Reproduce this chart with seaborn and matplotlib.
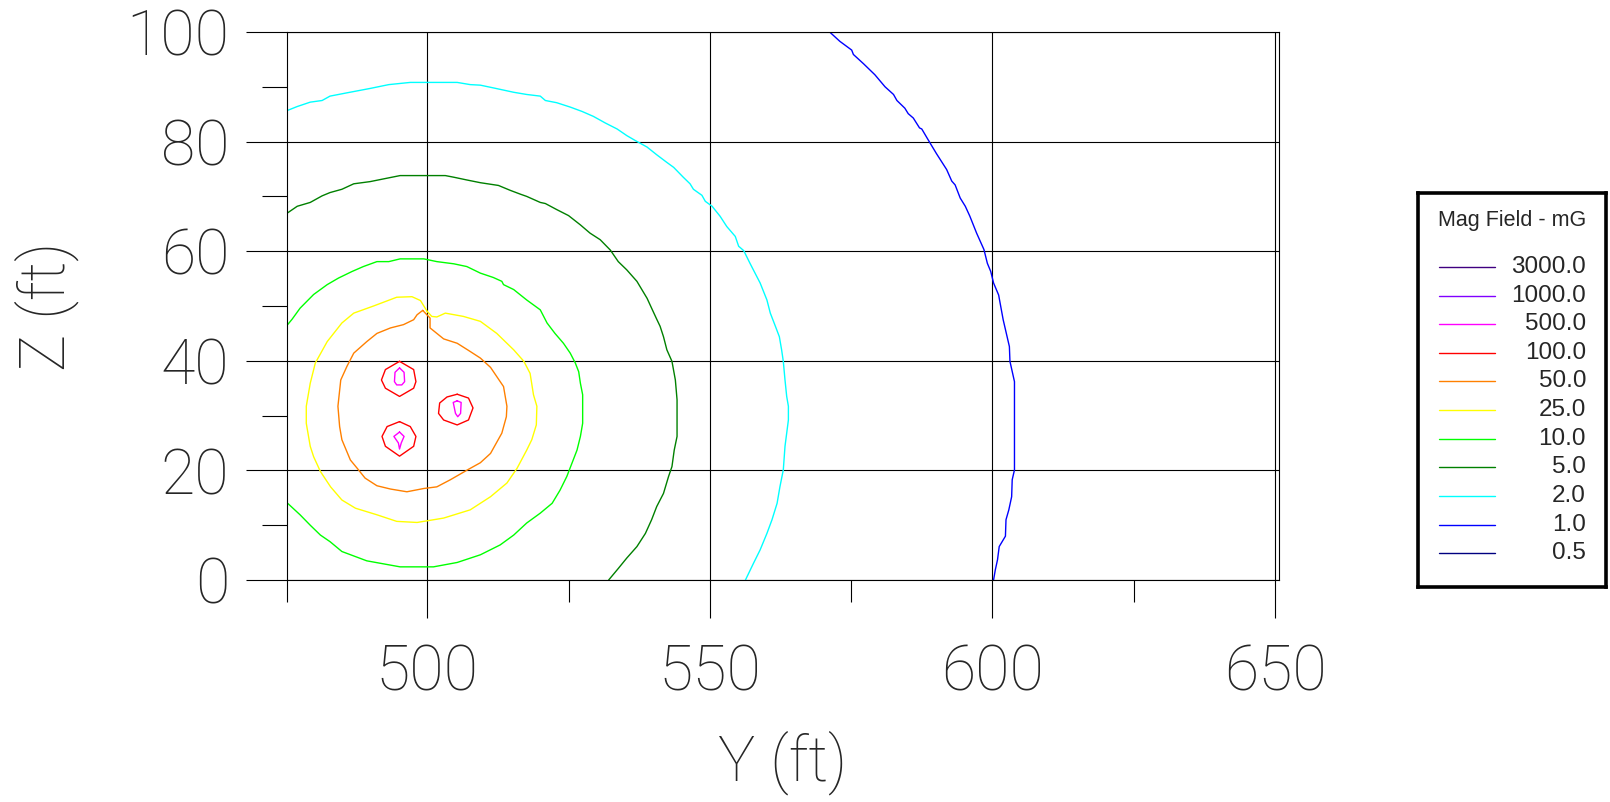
import matplotlib
matplotlib.use("Agg")
import matplotlib.pyplot as plt
import seaborn as sns
from matplotlib.ticker import FixedLocator


# contour levels shown in the legend (top to bottom)
level_labels = ["3000.0", "1000.0", "500.0", "100.0", "50.0", "25.0",
                "10.0", "5.0", "2.0", "1.0", "0.5"]
level_colors = ["#400080", "#8000ff", "#ff00ff", "#ff0000", "#ff8000", "#ffff00",
                "#00ff00", "#008000", "#00ffff", "#0000ff", "#000080"]

# contour lines, (Y ft, Z ft)
mg500_a = [(495.1, 38.7), (495.9, 37.9), (496.0, 36.2), (495.5, 35.6), (494.6, 35.6),
           (494.2, 36.2), (494.3, 37.9), (495.1, 38.7)]
mg500_b = [(495.1, 27.0), (495.9, 26.2), (495.4, 25.0), (495.1, 23.9), (494.9, 25.0),
           (494.1, 26.2), (495.1, 27.0)]
mg500_c = [(505.3, 32.7), (506.0, 32.4), (505.9, 30.4), (505.4, 29.8), (505.0, 30.4),
           (504.6, 32.4), (505.3, 32.7)]

mg100_a = [(495.1, 39.9), (497.6, 38.4), (498.0, 36.2), (497.6, 35.0), (495.1, 33.5),
           (492.6, 35.0), (491.9, 36.5), (492.6, 38.4), (495.1, 39.9)]
mg100_b = [(495.1, 28.9), (497.0, 28.0), (498.0, 26.2), (497.6, 24.4), (495.1, 22.6),
           (492.6, 24.4), (492.0, 26.2), (492.9, 28.0), (495.1, 28.9)]
mg100_c = [(505.3, 33.9), (507.3, 33.2), (508.1, 31.4), (507.3, 29.2), (505.3, 28.3),
           (502.9, 29.2), (502.0, 30.4), (502.2, 32.3), (503.5, 33.4), (505.3, 33.9)]

mg50 = [(499.2, 49.2), (500.5, 47.8), (500.5, 46.0), (502.9, 44.0), (505.3, 43.2),
        (507.3, 41.9), (509.4, 40.5), (511.2, 38.8), (513.5, 35.3), (514.1, 31.7),
        (514.0, 29.8), (513.2, 26.8), (511.2, 23.1), (509.4, 21.4), (507.3, 20.2),
        (504.1, 18.3), (501.7, 17.0), (499.4, 16.7), (496.4, 16.1), (493.5, 16.6),
        (491.1, 17.2), (489.0, 18.6), (487.6, 20.4), (486.4, 21.9), (484.9, 25.6),
        (484.5, 28.0), (484.2, 31.7), (484.7, 36.5), (485.8, 39.0), (487.0, 41.4),
        (489.3, 43.5), (491.1, 45.0), (493.5, 46.0), (495.8, 46.6), (497.6, 47.5),
        (498.2, 48.4), (499.2, 49.2)]

mg25 = [(500.0, 49.0), (500.8, 48.1), (501.7, 48.0), (503.2, 48.7), (506.4, 48.1),
        (509.4, 47.2), (512.3, 45.0), (515.3, 42.0), (517.1, 39.9), (518.2, 37.7),
        (518.8, 33.8), (519.4, 31.7), (519.3, 28.3), (518.5, 25.6), (517.6, 23.7),
        (515.9, 20.4), (514.1, 17.7), (511.2, 15.2), (507.6, 12.8), (502.9, 11.3),
        (498.2, 10.5), (494.6, 10.7), (491.1, 11.9), (487.3, 13.1), (484.9, 14.6),
        (482.9, 17.0), (481.1, 19.8), (479.9, 22.5), (479.3, 24.4), (478.6, 28.6),
        (478.6, 31.7), (479.3, 35.9), (480.2, 39.6), (482.3, 43.5), (484.9, 46.9),
        (487.0, 48.7), (490.5, 50.0), (494.6, 51.6), (497.3, 51.7), (498.8, 51.0),
        (500.0, 49.0)]

mg10 = [(475.3, 46.6), (476.1, 47.6), (477.5, 49.6), (479.9, 52.1), (482.3, 53.9),
        (484.3, 55.1), (486.7, 56.3), (488.7, 57.2), (491.1, 58.1), (493.2, 58.1),
        (495.2, 58.6), (499.4, 58.6), (501.7, 58.1), (504.7, 57.7), (507.0, 57.2),
        (509.4, 56.0), (511.7, 55.2), (513.2, 54.5), (513.5, 53.9), (515.3, 53.0),
        (517.6, 51.1), (520.0, 49.3), (521.2, 46.9), (522.6, 45.0), (524.1, 43.2),
        (525.3, 41.4), (526.2, 39.6), (526.8, 38.0), (527.1, 35.9), (527.5, 33.8),
        (527.5, 28.6), (527.1, 26.2), (526.5, 23.7), (525.6, 21.3), (524.7, 18.9),
        (523.5, 16.4), (522.1, 14.0), (520.0, 12.2), (517.6, 10.4), (515.3, 8.2),
        (512.9, 6.4), (509.4, 4.6), (505.3, 3.2), (501.1, 2.4), (495.2, 2.4),
        (489.3, 3.5), (484.9, 5.2), (482.8, 7.0), (481.1, 8.2), (479.3, 10.0),
        (477.5, 11.9), (475.3, 14.0)]

mg5 = [(475.3, 67.0), (477.0, 68.2), (479.3, 68.9), (481.4, 70.1), (482.8, 70.7),
       (484.9, 71.3), (487.0, 72.3), (489.9, 72.7), (492.3, 73.2), (495.2, 73.8),
       (499.9, 73.8), (503.2, 73.8), (504.7, 73.5), (507.0, 73.0), (509.4, 72.5),
       (512.6, 72.0), (514.7, 71.1), (516.5, 70.4), (517.6, 70.0), (520.0, 68.9),
       (520.9, 68.7), (522.9, 67.6), (525.0, 66.5), (527.1, 64.8), (528.8, 63.3),
       (530.6, 62.1), (532.4, 60.2), (533.8, 58.1), (535.3, 56.6), (537.1, 54.5),
       (538.9, 51.4), (539.7, 49.6), (540.6, 47.6), (541.2, 46.3), (541.8, 44.4),
       (542.4, 42.0), (543.3, 39.9), (543.9, 36.5), (544.2, 32.9), (544.2, 26.2),
       (543.7, 23.7), (543.3, 20.7), (542.7, 18.9), (541.8, 15.8), (540.6, 13.4),
       (539.7, 11.0), (538.6, 8.5), (537.1, 6.1), (535.3, 4.0), (533.8, 2.1),
       (532.1, 0.0)]

mg2 = [(475.3, 85.7), (477.0, 86.4), (479.3, 87.2), (481.4, 87.5), (482.8, 88.3),
       (485.8, 88.9), (489.9, 89.7), (493.2, 90.4), (497.0, 90.8), (499.9, 90.8),
       (505.3, 90.8), (507.6, 90.4), (509.4, 90.3), (511.7, 89.8), (515.3, 89.0),
       (517.6, 88.6), (520.0, 88.3), (520.9, 87.5), (522.9, 87.1), (525.3, 86.3),
       (527.4, 85.5), (529.4, 84.6), (531.5, 83.4), (533.6, 82.3), (535.3, 81.1),
       (536.8, 80.2), (538.9, 79.0), (540.6, 77.6), (542.4, 76.2), (543.6, 75.3),
       (545.3, 73.5), (546.5, 72.3), (547.1, 71.3), (548.6, 70.2), (549.2, 69.1),
       (550.4, 68.2), (551.8, 66.4), (553.0, 64.5), (554.5, 62.7), (555.1, 60.9),
       (556.0, 60.1), (557.1, 57.8), (558.9, 54.2), (560.1, 51.1), (560.7, 48.7),
       (561.6, 46.3), (562.3, 44.4), (562.7, 42.0), (563.0, 39.9), (563.3, 36.5),
       (563.6, 33.5), (563.9, 31.7), (563.9, 29.2), (563.6, 26.8), (563.3, 24.4),
       (563.0, 20.1), (562.4, 17.0), (561.9, 14.0), (561.0, 11.0), (560.1, 8.5),
       (558.9, 5.5), (557.7, 3.0), (556.3, 0.0)]

mg1 = [(571.2, 100.0), (573.0, 98.3), (575.1, 96.7), (575.4, 95.9), (577.2, 94.2),
       (579.2, 92.2), (581.0, 90.0), (582.5, 88.6), (583.1, 87.5), (584.5, 86.1),
       (585.1, 85.1), (586.0, 84.3), (587.1, 82.5), (587.5, 82.3), (588.7, 80.2),
       (590.1, 77.8), (591.9, 74.9), (592.8, 72.8), (593.4, 72.1), (594.3, 69.7),
       (595.2, 68.2), (596.0, 66.4), (597.2, 63.3), (598.5, 60.3), (599.1, 57.8),
       (599.7, 56.3), (600.2, 54.2), (601.1, 52.0), (601.9, 47.5), (603.0, 42.6),
       (603.1, 39.9), (603.9, 36.2), (603.9, 20.1), (603.5, 18.3), (603.4, 15.2),
       (602.9, 12.8), (602.4, 11.0), (602.3, 8.0), (601.2, 6.1), (600.9, 3.7),
       (600.5, 1.8), (600.2, 0.0)]

contours = [
    (mg500_a, "#ff00ff"), (mg500_b, "#ff00ff"), (mg500_c, "#ff00ff"),
    (mg100_a, "#ff0000"), (mg100_b, "#ff0000"), (mg100_c, "#ff0000"),
    (mg50, "#ff8000"), (mg25, "#ffff00"), (mg10, "#00ff00"),
    (mg5, "#008000"), (mg2, "#00ffff"), (mg1, "#0000ff"),
]

x_major = [500, 550, 600, 650]
x_minor = [475.2, 525, 575, 625]
z_major = [0, 20, 40, 60, 80, 100]
z_minor = [10, 30, 50, 70, 90]


sns.set_style("white")
plt.rcParams["font.family"] = ["Roboto", "DejaVu Sans"]
plt.rcParams["font.weight"] = 100
plt.rcParams["axes.labelweight"] = 100

fig = plt.figure(figsize=(16.1, 8.02), dpi=100)
ax = fig.add_axes([0.1783, 0.2768, 0.6161, 0.6833])

for pts, col in contours:
    ys = [p[0] for p in pts]
    zs = [p[1] for p in pts]
    sns.lineplot(x=ys, y=zs, sort=False, estimator=None, color=col,
                 linewidth=1.0, ax=ax)

ax.set_xlim(475.2, 650.7)
ax.set_ylim(0, 100)

ax.xaxis.set_major_locator(FixedLocator(x_major))
ax.xaxis.set_minor_locator(FixedLocator(x_minor))
ax.yaxis.set_major_locator(FixedLocator(z_major))
ax.yaxis.set_minor_locator(FixedLocator(z_minor))

ax.grid(True, which="major", color="black", linewidth=0.8)
for s in ax.spines.values():
    s.set_visible(True)
    s.set_color("black")
    s.set_linewidth(0.8)

ax.tick_params(axis="x", which="major", direction="out", length=27, width=0.8,
               color="black", pad=18, labelsize=45, bottom=True)
ax.tick_params(axis="x", which="minor", direction="out", length=16, width=0.8,
               color="black", bottom=True)
ax.tick_params(axis="y", which="major", direction="out", length=29.5, width=0.8,
               color="black", pad=12, labelsize=45, left=True)
ax.tick_params(axis="y", which="minor", direction="out", length=18, width=0.8,
               color="black", left=True)

ax.set_xlabel("Y (ft)", fontsize=45, fontweight=100, labelpad=20)
ax.set_ylabel("Z (ft)", fontsize=45, fontweight=100, labelpad=34)

# legend box
lax = fig.add_axes([1418 / 1610, 1 - 587 / 802, 188 / 1610, 394 / 802])
lax.set_xlim(0, 1)
lax.set_ylim(0, 1)
lax.set_xticks([])
lax.set_yticks([])
for s in lax.spines.values():
    s.set_visible(True)
    s.set_color("black")
    s.set_linewidth(2.6)

lax.text(0.5, 0.93, "Mag Field - mG", ha="center", va="center",
         fontsize=15.5, family="Liberation Sans", fontweight="normal")
for i, (lab, col) in enumerate(zip(level_labels, level_colors)):
    yy = 1 - (0.188 + i * 0.0726)
    lax.plot([0.111, 0.407], [yy, yy], color=col, linewidth=1.0)
    lax.text(0.894, yy, lab, ha="right", va="center", fontsize=17.5,
             family="Liberation Sans", fontweight="normal")

plt.savefig("out.png", dpi=100)
